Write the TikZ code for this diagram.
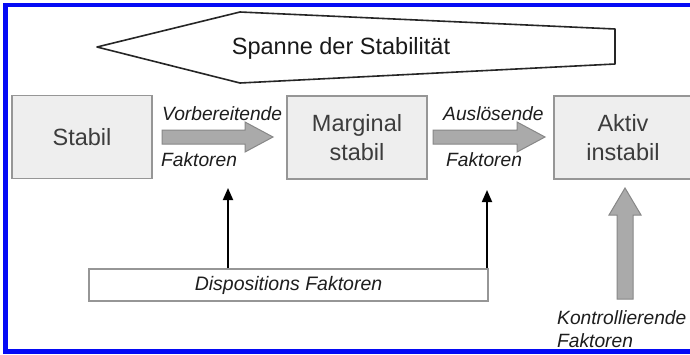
\documentclass[tikz,border=0pt]{standalone}
\usepackage{fontspec}
\setmainfont{Liberation Sans}
\usetikzlibrary{arrows.meta}
\definecolor{frameblue}{RGB}{5,10,245}
\definecolor{boxfill}{RGB}{238,238,238}
\definecolor{boxline}{RGB}{150,150,150}
\definecolor{arrowfill}{RGB}{170,170,170}
\definecolor{arrowline}{RGB}{135,135,135}
\definecolor{boxtext}{RGB}{60,60,60}
\definecolor{labtext}{RGB}{30,30,30}
\tikzset{
  statebox/.style={draw=boxline, line width=1.3pt, fill=boxfill, minimum width=140pt, minimum height=83pt,
    inner sep=0pt, align=center, text=boxtext, font=\fontsize{23.5}{29}\selectfont},
  lab/.style={inner sep=0pt, text=labtext, font=\fontsize{19.2}{23}\selectfont\itshape},
  dispbox/.style={draw=boxline, line width=1.3pt, fill=white, minimum width=399pt, minimum height=32pt,
    inner sep=0pt, text=labtext, font=\fontsize{19.5}{23}\selectfont\itshape},
  grayarrow/.style={draw=arrowline, line width=1pt, fill=arrowfill},
  blackarrow/.style={draw=black, line width=1.8pt, -{Triangle[width=10pt,length=12pt]}},
  spanarrow/.style={draw=black!85, line width=1.6pt, fill=white, line join=round}
}
\begin{document}
\begin{tikzpicture}[x=1pt,y=-1pt]
\useasboundingbox (0,0) rectangle (690,354);
\clip (0,0) rectangle (690,354);
\fill[white] (0,0) rectangle (690,354);
% blue frame (right side outside the picture)
\draw[frameblue, line width=4.8pt] (5.5,5) rectangle (710,351.5);

% span of stability
\draw[spanarrow] (97,47) -- (240,12) -- (615,29) -- (615,64) -- (240,83) -- cycle;
\node[anchor=base, inner sep=0pt, text=black!90, font=\fontsize{23.5}{28}\selectfont] (span) at (341,54) {Spanne der Stabilität};

% state boxes
\node[statebox] (stabil) at (82,137) {Stabil};
\node[statebox] (marginal) at (357,137.5) {Marginal\\stabil};
\node[statebox, minimum width=138pt] (aktiv) at (623,137.5) {Aktiv\\instabil};

% gray block arrows between states
\coordinate (a1s) at (162,137);
\coordinate (a1e) at (273,137);
\draw[grayarrow] (a1s) ++(0,-7) -- (245,130) -- (245,122) -- (a1e) -- (245,152) -- (245,144) -- (162,144) -- cycle;
\coordinate (a2s) at (433,137);
\coordinate (a2e) at (545,137);
\draw[grayarrow] (a2s) ++(0,-7) -- (517,130) -- (517,122) -- (a2e) -- (517,152) -- (517,144) -- (433,144) -- cycle;

% labels
\node[lab, anchor=base west] (l1a) at (162,120) {Vorbereitende};
\node[lab, anchor=base west] (l1b) at (161,166) {Faktoren};
\node[lab, anchor=base west] (l2a) at (443,120) {Auslösende};
\node[lab, anchor=base west] (l2b) at (446,166) {Faktoren};

% disposition factors
\node[dispbox] (disp) at (288.5,285) {Dispositions Faktoren};
\coordinate (t1) at (228,188);
\coordinate (t2) at (487,190);
\draw[blackarrow] (t1 |- disp.north) -- (t1);
\draw[blackarrow] (t2 |- disp.north) -- (t2);

% controlling factors
\coordinate (kbase) at (625,299);
\coordinate (ktip) at (625,188);
\draw[grayarrow] (617,299) -- (617,215) -- (609,215) -- (ktip) -- (641,215) -- (633,215) -- (633,299) -- cycle;
\node[lab, anchor=base west] (k1) at (557,324) {Kontrollierende};
\node[lab, anchor=base west] (k2) at (557,347) {Faktoren};
\end{tikzpicture}
\end{document}
